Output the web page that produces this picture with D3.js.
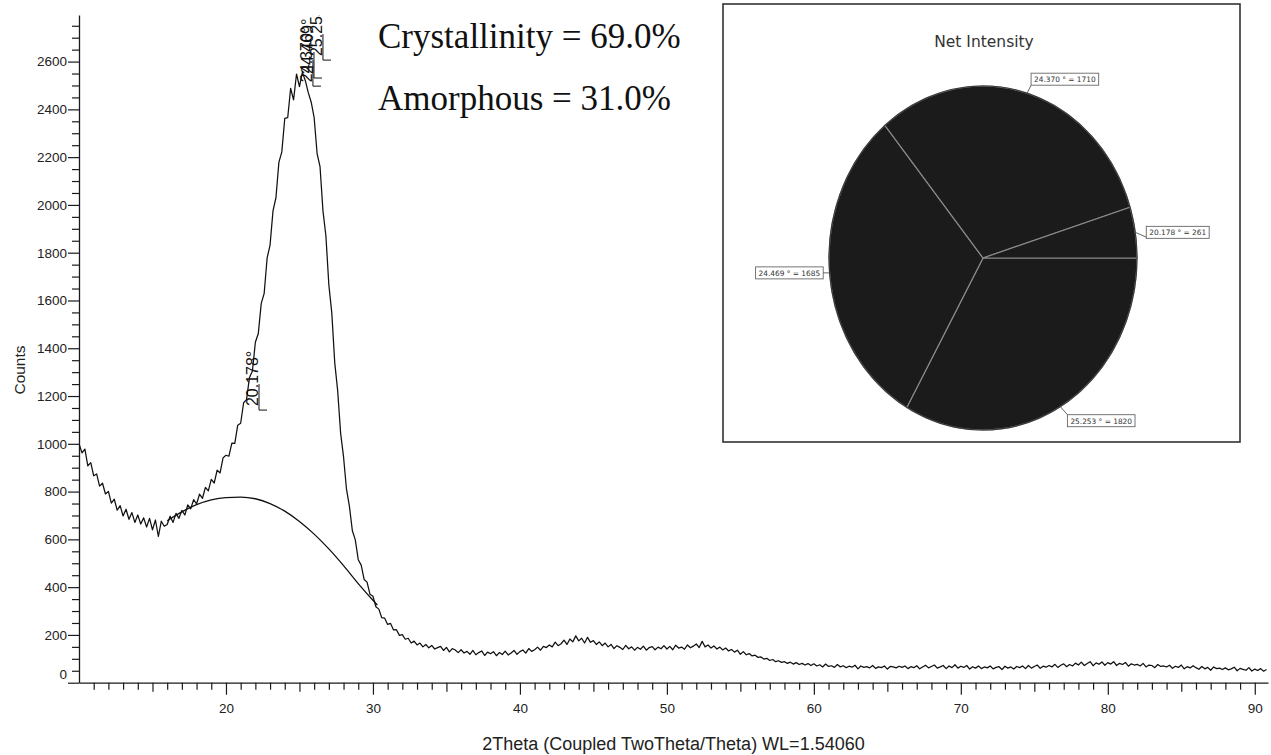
<!DOCTYPE html>
<html><head><meta charset="utf-8">
<script src="https://cdn.jsdelivr.net/npm/d3@7"></script>
<style>body{margin:0;background:#fff} svg{display:block}</style>
</head><body>
<svg id="chart" width="1271" height="755"></svg>
<script>
// ---------- data ----------
const thetaStart = 10;
const thetaStep = 0.2;
const counts = [
1000,962,978,908,921,866,874,823,835,790,
801,752,768,722,741,698,726,684,712,671,
702,664,690,652,688,640,681,612,676,655,
662,697,671,709,688,721,702,744,728,766,
748,789,772,818,803,851,836,890,878,941,
952,948,1003,1002,1078,1086,1172,1185,1278,1305,
1425,1462,1588,1630,1778,1832,1975,2030,2178,2222,
2362,2365,2488,2440,2548,2495,2555,2520,2470,2430,
2365,2215,2160,1975,1870,1665,1548,1340,1222,1045,
945,810,738,636,598,515,492,432,421,370,
362,318,308,272,270,244,248,221,222,198,
201,182,186,166,174,158,166,150,160,146,
156,141,147,152,135,148,129,143,137,126,
138,124,131,119,135,117,126,133,114,128,
121,130,113,126,118,132,116,124,135,119,
130,137,124,143,131,138,149,136,152,147,
158,150,170,155,163,178,160,183,171,196,
175,186,166,190,169,176,160,171,155,166,
150,160,143,155,148,139,156,142,150,136,
148,140,153,136,147,151,138,149,142,155,
141,152,138,157,145,149,140,158,146,153,
162,147,173,150,158,145,154,141,149,137,
145,133,139,128,136,119,130,117,122,112,
115,106,108,99,102,93,97,88,92,85,
88,81,86,78,84,76,81,74,80,72,
79,70,75,66,78,68,71,64,76,66,
71,63,69,65,73,58,70,64,67,62,
72,60,66,63,70,57,68,66,62,69,
64,70,59,67,63,71,58,66,73,62,
68,74,61,66,72,59,70,63,75,61,
69,64,72,57,67,61,70,59,66,62,
70,58,64,67,55,69,61,66,57,68,
63,70,59,72,61,68,74,60,69,65,
72,66,77,64,73,79,67,76,70,82,
74,86,72,80,88,71,83,77,87,73,
84,78,88,72,81,76,85,69,79,74,
77,70,81,66,74,72,63,76,68,70,
66,73,60,69,64,74,58,67,62,71,
63,56,68,58,64,52,66,59,61,55,
62,54,58,65,50,60,56,52,63,49,
57,51,59,48,55
];
const amorphousTheta  = [16, 17, 18, 19, 20, 21, 22, 23, 24, 25, 26, 27, 28, 29, 30, 30.3];
const amorphousCounts = [678,715,745,765,775,777,770,750,718,675,622,560,490,415,345,325];

const xMajorTicks = [20, 30, 40, 50, 60, 70, 80, 90];
const yMajorTicks = [0, 200, 400, 600, 800, 1000, 1200, 1400, 1600, 1800, 2000, 2200, 2400, 2600];

const peakNames       = ["20.178°", "24.370°", "24.469°", "25.253°"];
const peakLabelTheta  = [22.18, 25.85, 25.92, 26.53];
const peakLabelCounts = [1158, 2514, 2548, 2623];

const summaryLines = ["Crystallinity = 69.0%", "Amorphous = 31.0%"];

const pieTitle  = "Net Intensity";
const pieNames  = ["25.253 °", "24.469 °", "24.370 °", "20.178 °"];
const pieValues = [1820, 1685, 1710, 261];

const xTitle = "2Theta (Coupled TwoTheta/Theta) WL=1.54060";
const yTitle = "Counts";

// ---------- layout ----------
const svg = d3.select("#chart");
const x = d3.scaleLinear().domain([10, 90.9]).range([79, 1268]);
const y = d3.scaleLinear().domain([0, 2795]).range([682.7, 15]);

svg.append("defs").append("clipPath").attr("id", "plotclip")
  .append("rect").attr("x", 79).attr("y", 15).attr("width", 1268 - 79).attr("height", 682.7 - 15);

// x axis
const xAxis = d3.axisBottom(x)
  .tickValues(d3.range(11, 91))
  .tickSizeInner(12).tickSizeOuter(0).tickPadding(9)
  .tickFormat(d => xMajorTicks.includes(d) ? d : "");
const gx = svg.append("g").attr("transform", `translate(0,${y(0)})`).call(xAxis);
gx.selectAll(".tick line").attr("y2", d => xMajorTicks.includes(d) ? 12 : (d % 5 === 0 ? 9 : 7));
gx.select(".domain").attr("stroke", "#1a1a1a").attr("stroke-width", 1.3);
gx.selectAll(".tick line").attr("stroke", "#1a1a1a").attr("stroke-width", 1.2);
gx.selectAll("text").attr("font-family", "Liberation Sans, Arial, sans-serif").attr("font-size", 13.5).attr("fill", "#222");

// y axis
const yAxis = d3.axisLeft(y)
  .tickValues(d3.range(0, 2751, 50))
  .tickSizeInner(11).tickSizeOuter(0).tickPadding(1)
  .tickFormat(d => yMajorTicks.includes(d) ? d : "");
const gy = svg.append("g").attr("transform", `translate(${x(10)},0)`).call(yAxis);
gy.selectAll(".tick line").attr("x2", d => yMajorTicks.includes(d) ? -11 : -7)
  .attr("stroke", "#1a1a1a").attr("stroke-width", 1.2);
gy.select(".domain").attr("stroke", "#1a1a1a").attr("stroke-width", 1.3);
gy.selectAll("text").attr("font-family", "Liberation Sans, Arial, sans-serif").attr("font-size", 13.5).attr("fill", "#222");
gy.selectAll(".tick").filter(d => d === 0).select("text").attr("y", -9);

// axis titles
svg.append("text").attr("x", (x.range()[0] + x.range()[1]) / 2).attr("y", 750)
  .attr("text-anchor", "middle").attr("font-family", "Liberation Sans, Arial, sans-serif")
  .attr("font-size", 18).attr("fill", "#222").text(xTitle);
svg.append("text").attr("transform", "translate(19,370) rotate(-90)")
  .attr("text-anchor", "middle").attr("dominant-baseline", "central")
  .attr("font-family", "Liberation Sans, Arial, sans-serif")
  .attr("font-size", 15.5).attr("fill", "#222").text(yTitle);

// plot lines
const plot = svg.append("g").attr("clip-path", "url(#plotclip)");
const line = d3.line().x((d, i) => x(thetaStart + i * thetaStep)).y(d => y(d));
plot.append("path").datum(counts).attr("d", line)
  .attr("fill", "none").attr("stroke", "#111").attr("stroke-width", 1.25).attr("stroke-linejoin", "round");

const amorph = d3.line().x(d => x(d[0])).y(d => y(d[1])).curve(d3.curveMonotoneX);
plot.append("path").datum(amorphousTheta.map((t, i) => [t, amorphousCounts[i]])).attr("d", amorph)
  .attr("fill", "none").attr("stroke", "#111").attr("stroke-width", 1.3);

// peak labels
peakNames.forEach((name, i) => {
  const x0 = x(peakLabelTheta[i]), y0 = y(peakLabelCounts[i]);
  plot.append("text").attr("transform", `translate(${x0},${y0}) rotate(-90)`)
    .attr("font-family", "Liberation Sans, Arial, sans-serif").attr("font-size", 16)
    .attr("fill", "#111").text(name);
  plot.append("path").attr("d", `M${x0 + 1},${y0 - 22} L${x0 + 1},${y0 + 4} L${x0 + 9},${y0 + 4}`)
    .attr("fill", "none").attr("stroke", "#111").attr("stroke-width", 1);
});

// summary text
summaryLines.forEach((s, i) => {
  svg.append("text").attr("x", 378).attr("y", 48 + i * 62)
    .attr("font-family", "Liberation Serif, Times New Roman, serif")
    .attr("font-size", 35).attr("fill", "#111").text(s);
});

// inset pie
svg.append("rect").attr("x", 723).attr("y", 4).attr("width", 517).attr("height", 438)
  .attr("fill", "#fff").attr("stroke", "#333").attr("stroke-width", 1.6);
svg.append("text").attr("x", 984).attr("y", 47).attr("text-anchor", "middle")
  .attr("font-family", "DejaVu Sans, Tahoma, sans-serif").attr("font-size", 15.5)
  .attr("fill", "#333").text(pieTitle);

const cx = 983, cy = 258, rx = 154, ry = 172;
const arcs = d3.pie().sort(null).startAngle(Math.PI / 2).endAngle(Math.PI / 2 + 2 * Math.PI)(pieValues);
const arc = d3.arc().innerRadius(0).outerRadius(1);
const pieG = svg.append("g").attr("transform", `translate(${cx},${cy}) scale(${rx},${ry})`);
pieG.selectAll("path").data(arcs).join("path").attr("d", arc)
  .attr("fill", "#1b1b1b").attr("stroke", "#8a8a8a").attr("stroke-width", 1.2)
  .attr("vector-effect", "non-scaling-stroke");
svg.append("ellipse").attr("cx", cx).attr("cy", cy).attr("rx", rx).attr("ry", ry)
  .attr("fill", "none").attr("stroke", "#3a3a3a").attr("stroke-width", 1.2);

// label placement: [box top-left offset from edge point], leader end relative to box
const boxPlace = [
  {dx: 7,   dy: 8,   lx: 0,  ly: 0},
  {dx: -74, dy: -6,  lx: 1,  ly: 0.5},
  {dx: 4,   dy: -20, lx: 0,  ly: 1},
  {dx: 11,  dy: -6,  lx: 0,  ly: 0.9}
];
arcs.forEach((a, i) => {
  const m = (a.startAngle + a.endAngle) / 2;
  const ex = cx + rx * Math.sin(m), ey = cy - ry * Math.cos(m);
  const label = `${pieNames[i]} = ${pieValues[i]}`;
  const g = svg.append("g");
  const t = g.append("text").attr("font-family", "DejaVu Sans, Tahoma, sans-serif")
    .attr("font-size", 7.4).attr("fill", "#333").text(label);
  const w = t.node().getComputedTextLength() + 6, h = 12;
  const bx = ex + boxPlace[i].dx, by = ey + boxPlace[i].dy;
  g.insert("rect", "text").attr("x", bx).attr("y", by).attr("width", w).attr("height", h)
    .attr("fill", "#fff").attr("stroke", "#666").attr("stroke-width", 0.9);
  t.attr("x", bx + 3).attr("y", by + 9);
  const lx = bx + boxPlace[i].lx * w, ly = by + boxPlace[i].ly * h;
  svg.append("line").attr("x1", ex).attr("y1", ey).attr("x2", lx).attr("y2", ly)
    .attr("stroke", "#555").attr("stroke-width", 0.9);
});
</script>
</body></html>
